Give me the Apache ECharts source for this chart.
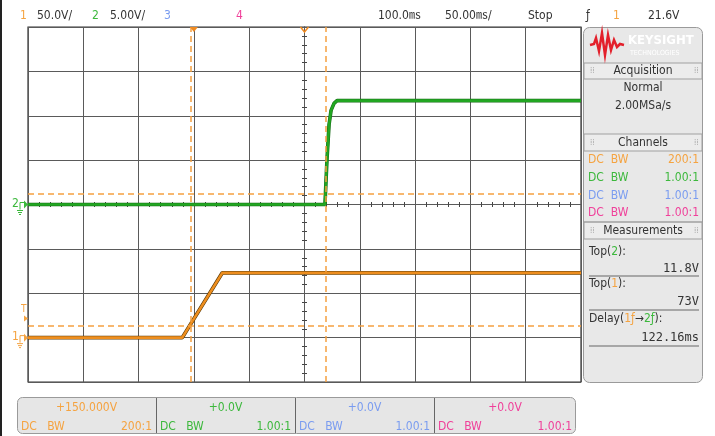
<!DOCTYPE html>
<html><head><meta charset="utf-8">
<script src="https://cdn.jsdelivr.net/npm/echarts@6/dist/echarts.min.js"></script>
<style>html,body{margin:0;padding:0;background:#fff}#c{width:715px;height:436px}</style>
</head><body><div id="c"></div>
<script>
// ---- data ----
const ch1Time = [-150, -10.5, 25.7, 350];          // ms
const ch1Volt = [0, 0, 73, 73];                    // V
const ch2Time = [-150, 118.5, 120.3, 122.2, 124.0, 126.7, 129.4, 350];
const ch2Volt = [0, 0, 5.0, 9.0, 10.6, 11.4, 11.7, 11.7];
const cursorTimes = [-3.0, 119.2];                 // vertical measurement cursors (ms)
const ch1Thresholds = [13];                        // V on ch1 scale
const ch2Thresholds = [1.25];                      // V on ch2 scale
const triggerLevel = 21.6;                         // V (ch1)
const triggerTime = 0;
const delayTime = 100;
const timeRange = [-150, 350], timeStep = 50;
const ch1Range = [-50, 350], ch1Step = 50;
const ch2Range = [-20, 20], ch2Step = 5;
const divX = [-5, 5], divY = [-4, 4];

const topBar = [
  {t:'1', x:20, c:'#f5a340'}, {t:'50.0V/', x:37, c:'#333'},
  {t:'2', x:92, c:'#3cb83c'}, {t:'5.00V/', x:110, c:'#333'},
  {t:'3', x:164, c:'#7a9cf0'}, {t:'4', x:236, c:'#f0409a'},
  {t:'100.0㎳', x:378, c:'#333'}, {t:'50.00㎳/', x:445, c:'#333'},
  {t:'Stop', x:528, c:'#333'}, {t:'ƒ', x:586, c:'#333'},
  {t:'1', x:613, c:'#f5a340'}, {t:'21.6V', x:648, c:'#333'}
];
const chanColors = ['#f5a340', '#3cb83c', '#7a9cf0', '#f0409a'];
const chanProbe = ['200:1', '1.00:1', '1.00:1', '1.00:1'];
const chanOffset = ['+150.000V', '+0.0V', '+0.0V', '+0.0V'];
const acqMode = 'Normal', acqRate = '2.00MSa/s';
const measValues = ['11.8V', '73V', '122.16ms'];

const FONT = "'Liberation Sans Narrow','DejaVu Sans Condensed','Noto Sans CJK SC',sans-serif";
const MONO = "'DejaVu Sans Mono','Liberation Mono',monospace";
const GRIDC = '#5a5a5a';

const chart = echarts.init(document.getElementById('c'), null, {renderer:'canvas'});
const zip = (a,b)=>a.map((v,i)=>[v,b[i]]);
const hidden = {axisLabel:{show:false}, axisTick:{show:false}, axisLine:{show:false}, splitLine:{show:false}};
function centerAxis(extra){
  return Object.assign({type:'value', axisLabel:{show:false}, splitLine:{show:false},
    axisTick:{show:false}, minorTick:{show:true, splitNumber:5, length:2.5, lineStyle:{color:'#444', width:1}},
    axisLine:{show:true, lineStyle:{color:GRIDC, width:1}}}, extra);
}
const dash = {color:'#f5a040', type:[6,4], width:1.5};

chart.setOption({
  animation:false,
  grid:{left:28, right:134, top:27, bottom:54, containLabel:false, show:true, borderColor:'#333', borderWidth:1.2, backgroundColor:'#fff'},
  xAxis:[
    Object.assign({type:'value', min:timeRange[0], max:timeRange[1], interval:timeStep}, hidden,
      {splitLine:{show:true, lineStyle:{color:GRIDC, width:1}}}),
    Object.assign({type:'value', min:divX[0], max:divX[1], interval:1, show:false}),
    centerAxis({min:divX[0], max:divX[1], interval:1, axisTick:{show:false, inside:true}, axisLine:{show:true, onZero:true, onZeroAxisIndex:2, lineStyle:{color:GRIDC}}}),
    centerAxis({min:divX[0], max:divX[1], interval:1, axisTick:{show:false, inside:false}, axisLine:{show:true, onZero:true, onZeroAxisIndex:2, lineStyle:{color:GRIDC}}})
  ],
  yAxis:[
    Object.assign({type:'value', min:ch1Range[0], max:ch1Range[1], interval:ch1Step}, hidden,
      {splitLine:{show:true, lineStyle:{color:GRIDC, width:1}}}),
    {type:'value', min:ch2Range[0], max:ch2Range[1], interval:ch2Step, show:false},
    {type:'value', min:divY[0], max:divY[1], interval:1, show:false},
    centerAxis({min:divY[0], max:divY[1], interval:1, axisTick:{show:false, inside:true}, axisLine:{show:true, onZero:true, onZeroAxisIndex:1, lineStyle:{color:GRIDC}}}),
    centerAxis({min:divY[0], max:divY[1], interval:1, axisTick:{show:false, inside:false}, axisLine:{show:true, onZero:true, onZeroAxisIndex:1, lineStyle:{color:GRIDC}}})
  ],
  series:[
    {type:'line', xAxisIndex:0, yAxisIndex:0, data:[], silent:true, z:2,
     markLine:{silent:true, symbol:'none', label:{show:false}, lineStyle:dash,
       data:cursorTimes.map(t=>({xAxis:t})).concat(ch1Thresholds.map(v=>({yAxis:v})))}},
    {type:'line', xAxisIndex:0, yAxisIndex:1, data:[], silent:true, z:2,
     markLine:{silent:true, symbol:'none', label:{show:false}, lineStyle:dash,
       data:ch2Thresholds.map(v=>({yAxis:v}))}},
    {type:'line', xAxisIndex:0, yAxisIndex:0, data:zip(ch1Time,ch1Volt), symbol:'none', z:3, silent:true,
     lineStyle:{color:'#5a3a08', width:3.8}},
    {type:'line', xAxisIndex:0, yAxisIndex:0, data:zip(ch1Time,ch1Volt), symbol:'none', z:4, silent:true,
     lineStyle:{color:'#ee8e1e', width:2.6}},
    {type:'line', xAxisIndex:0, yAxisIndex:1, data:zip(ch2Time,ch2Volt), symbol:'none', z:3, silent:true,
     lineStyle:{color:'#166a16', width:3.6}},
    {type:'line', xAxisIndex:0, yAxisIndex:1, data:zip(ch2Time,ch2Volt), symbol:'none', z:4, silent:true,
     lineStyle:{color:'#22a622', width:2.6}}
  ]
});

// ---- annotations (positions of markers via axis scales) ----
const g = [];
const txt = (x,y,t,c,o)=>g.push(Object.assign({type:'text', x, y, silent:true, z:10,
  style:Object.assign({text:t, fill:c, font:'12px '+FONT, textVerticalAlign:'middle'}, o||{})}));
const line = (pts,c,w)=>g.push({type:'polyline', silent:true, z:10, shape:{points:pts}, style:{stroke:c, lineWidth:w||1, fill:null}});
const rect = (x,y,w,h,fill,stroke,r)=>g.push({type:'rect', silent:true, z:9, shape:{x,y,width:w,height:h,r:r||0}, style:{fill, stroke, lineWidth:1}});

rect(0,0,2,436,'#222',null);
topBar.forEach(b=>txt(b.x,16,b.t,b.c,{font:'12px '+FONT}));

// top markers
const xt = chart.convertToPixel({xAxisIndex:0}, triggerTime);
const xd = chart.convertToPixel({xAxisIndex:0}, delayTime);
g.push({type:'polygon', silent:true, z:11, shape:{points:[[xt-4,27],[xt+4,27],[xt,32]]}, style:{fill:'#f08a20'}});
line([[xd-4,27],[xd,32],[xd+4,27]], '#f08a20', 1.5);

// left markers
const y2 = chart.convertToPixel({yAxisIndex:1}, 0);
const y1 = chart.convertToPixel({yAxisIndex:0}, 0);
const yT = chart.convertToPixel({yAxisIndex:0}, triggerLevel);
function ground(y, c, lab){
  txt(12, y-1, lab, c, {font:'12px '+FONT});
  line([[20,y+5],[20,y-2],[24,y-2]], c, 1);
  g.push({type:'polygon', silent:true, z:11, shape:{points:[[24,y-4],[28,y],[24,y+4]]}, style:{fill:c}});
  line([[17,y+6],[23,y+6]], c, 1); line([[18,y+8],[22,y+8]], c, 1); line([[19,y+10],[21,y+10]], c, 1);
}
ground(y2, '#3cb83c', '2');
ground(y1, '#f5a340', '1');
txt(21, yT-9, 'T', '#f5a340', {font:'10px '+FONT});
g.push({type:'polygon', silent:true, z:11, shape:{points:[[24,yT-3],[28,yT],[24,yT+3]]}, style:{fill:'#f5a340'}});

// right panel
rect(583.5,27.5,119,355,'#e8e8e8','#9a9a9a',6);
// logo
line([[590,45],[594,44],[596,38],[599,51],[602,33],[605,55],[608,35],[611,50],[614,40],[617,47],[620,44],[624,45]], '#e3202b', 2.5);
txt(628,41,'KEYSIGHT','#ffffff',{font:'bold 13px '+FONT});
txt(630,53,'TECHNOLOGIES','#ffffff',{font:'7px '+FONT});
function header(y0,y1,label){
  rect(584,y0,118,y1-y0,'#ececec','#a0a0a0',0);
  txt(643,(y0+y1)/2,label,'#333',{textAlign:'center', font:'12px '+FONT});
  txt(590,(y0+y1)/2,'⁞⁞','#aaa',{font:'8px '+FONT});
  txt(694,(y0+y1)/2,'⁞⁞','#aaa',{font:'8px '+FONT});
}
header(63,79,'Acquisition');
txt(643,88,acqMode,'#333',{textAlign:'center'});
txt(643,106,acqRate,'#333',{textAlign:'center'});
header(134,151,'Channels');
chanColors.forEach((c,i)=>{
  const y = 160 + i*17.7;
  txt(588,y,'DC  BW',c,{font:'12px '+FONT});
  txt(699,y,chanProbe[i],c,{textAlign:'right', font:'12px '+FONT});
});
line([[584,222],[702,222]],'#a0a0a0',1);
header(222,239,'Measurements');
g.push({type:'text', x:589, y:252, silent:true, z:10, style:{rich:{a:{fill:'#333',font:'12px '+FONT},b:{fill:'#3cb83c',font:'12px '+FONT}}, text:'{a|Top(}{b|2}{a|):}', textVerticalAlign:'middle'}});
txt(699,269,measValues[0],'#333',{textAlign:'right', font:'12px '+MONO});
line([[589,276],[699,276]],'#666',1);
g.push({type:'text', x:589, y:284, silent:true, z:10, style:{rich:{a:{fill:'#333',font:'12px '+FONT},b:{fill:'#f5a340',font:'12px '+FONT}}, text:'{a|Top(}{b|1}{a|):}', textVerticalAlign:'middle'}});
txt(699,302,measValues[1],'#333',{textAlign:'right', font:'12px '+MONO});
line([[589,310],[699,310]],'#666',1);
g.push({type:'text', x:589, y:319, silent:true, z:10, style:{rich:{a:{fill:'#333',font:'12px '+FONT},o:{fill:'#f5a340',font:'12px '+FONT},gr:{fill:'#3cb83c',font:'12px '+FONT}}, text:'{a|Delay(}{o|1ƒ}{a|→}{gr|2ƒ}{a|):}', textVerticalAlign:'middle'}});
txt(699,338,measValues[2],'#333',{textAlign:'right', font:'12px '+MONO});
line([[589,346],[699,346]],'#666',1);

// bottom bar
rect(17.5,397.5,558,36,'#e6e6e6','#9a9a9a',5);
[156,295,434].forEach(x=>line([[x+0.5,398],[x+0.5,433]],'#666',1));
const bx = [17,156,295,434];
chanColors.forEach((c,i)=>{
  const x0 = bx[i], w = (i<3? bx[i+1]:576) - x0;
  txt(x0+w/2,408,chanOffset[i],c,{textAlign:'center', font:'12px '+FONT});
  txt(x0+4,427,'DC   BW',c,{font:'12px '+FONT});
  txt(x0+w-4,427,chanProbe[i],c,{textAlign:'right', font:'12px '+FONT});
});

chart.setOption({graphic:g});
</script></body></html>
